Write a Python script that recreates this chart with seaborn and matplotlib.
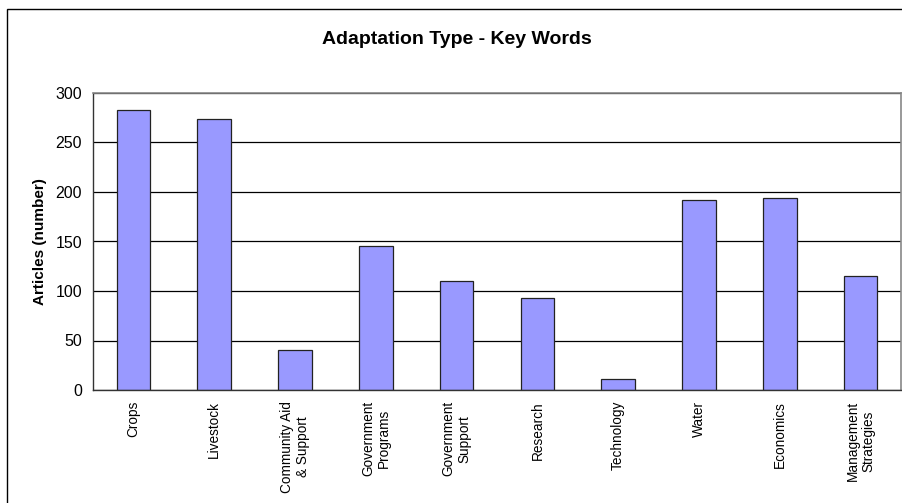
import matplotlib
matplotlib.use("Agg")
import matplotlib.pyplot as plt
import seaborn as sns
import numpy as np
import pandas as pd
from matplotlib.patches import Rectangle

# data
categories = ["Crops", "Livestock", "Community Aid\n& Support", "Government\nPrograms",
              "Government\nSupport", "Research", "Technology", "Water", "Economics",
              "Management\nStrategies"]
articles = [283, 274, 40, 145, 110, 93, 11, 192, 194, 115]
y_ticks = [0, 50, 100, 150, 200, 250, 300]

df = pd.DataFrame({"Type": categories, "Articles": articles})

sns.set_style("white")
plt.rcParams["font.family"] = ["Liberation Sans", "DejaVu Sans"]
plt.rcParams["text.color"] = "black"
plt.rcParams["axes.labelcolor"] = "black"
plt.rcParams["xtick.color"] = "black"
plt.rcParams["ytick.color"] = "black"

fig = plt.figure(figsize=(9.02, 5.03), dpi=100)
ax = fig.add_axes([93 / 902, 1 - 390 / 503, (901 - 93) / 902, (390 - 93) / 503])

sns.barplot(data=df, x="Type", y="Articles", color="#9999FF", saturation=1,
            edgecolor="#222222", linewidth=0.9, width=0.415, ax=ax)

ax.set_xlim(-0.5, len(categories) - 0.5)
ax.set_ylim(0, 300)
ax.set_yticks(y_ticks)
ax.yaxis.grid(True, color="black", linewidth=0.9)
ax.set_axisbelow(True)

# Excel-style ticks between categories
ax.set_xticks(np.arange(len(categories)))
ax.set_xticklabels(categories, rotation=90, fontsize=9.8, ha="center", va="top",
                   multialignment="center", linespacing=1.15)
ax.tick_params(axis="x", which="major", length=0, pad=8)
ax.set_xticks(np.arange(-0.5, len(categories)), minor=True)
ax.tick_params(axis="x", which="minor", length=4, width=0.8, color="#333333", direction="out")
ax.tick_params(axis="y", length=5, width=0.8, color="#333333", direction="out",
               labelsize=11.5, pad=3)

for side in ["left", "bottom"]:
    ax.spines[side].set_color("#333333")
    ax.spines[side].set_linewidth(1.0)
for side in ["top", "right"]:
    ax.spines[side].set_visible(True)
    ax.spines[side].set_color("#888888")
    ax.spines[side].set_linewidth(1.2)

ax.set_xlabel("")
ax.set_ylabel("Articles (number)", fontsize=11, fontweight="bold", labelpad=6)

fig.text(457 / 902, 1 - 40 / 503, "Adaptation Type - Key Words", ha="center", va="center",
         fontsize=14, fontweight="bold")

# outer chart border (left and top visible in the crop)
fig.patches.append(Rectangle((7 / 902, -0.05), 1.2, 1 - 9 / 503 + 0.05,
                             transform=fig.transFigure, fill=False,
                             edgecolor="black", linewidth=1.0))

fig.savefig("out.png", dpi=100)
